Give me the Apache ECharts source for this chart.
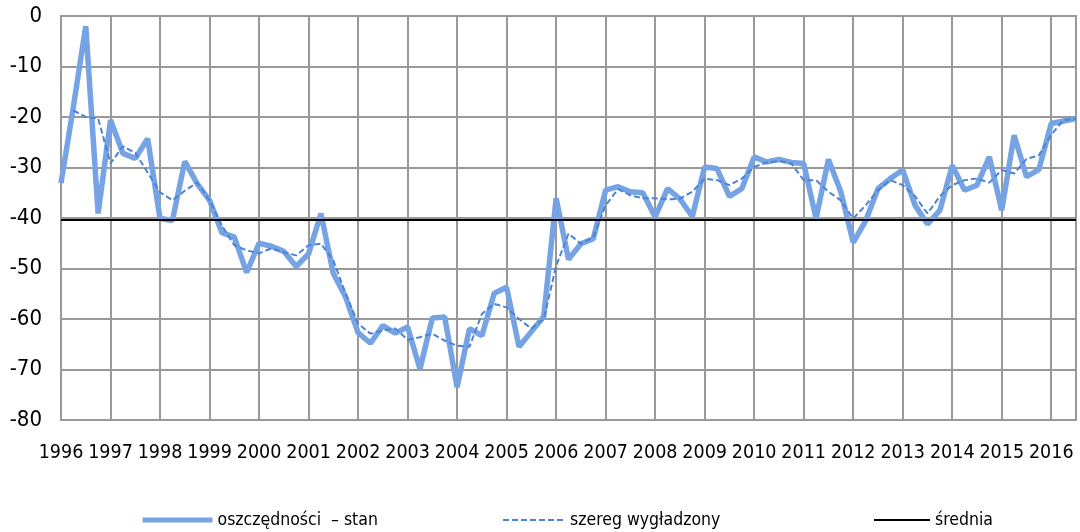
<!DOCTYPE html>
<html>
<head>
<meta charset="utf-8">
<script src="https://cdn.jsdelivr.net/npm/echarts@6/dist/echarts.min.js"></script>
<style>html,body{margin:0;padding:0;background:#fff}#c{width:1080px;height:532px}</style>
</head>
<body>
<div id="c"></div>
<script>
const YEARS = ['1996','1997','1998','1999','2000','2001','2002','2003','2004','2005','2006','2007','2008','2009','2010','2011','2012','2013','2014','2015','2016'];
const QUARTERS_LAST_YEAR = 3;
const SAVINGS = [-33.1,-18.0,-2.0,-39.1,-20.6,-27.2,-28.2,-24.3,-40.1,-40.5,-28.8,-33.2,-36.5,-42.9,-43.8,-50.8,-45.0,-45.6,-46.6,-49.6,-47.1,-39.1,-51.0,-55.7,-62.7,-64.8,-61.3,-62.8,-61.6,-69.9,-59.8,-59.6,-73.5,-61.9,-63.3,-54.9,-53.7,-65.5,-62.5,-59.5,-36.1,-48.2,-45.1,-44.1,-34.5,-33.8,-34.8,-35.0,-39.8,-34.2,-36.2,-39.7,-29.9,-30.2,-35.7,-34.2,-27.9,-28.9,-28.4,-29.0,-29.2,-40.1,-28.4,-34.8,-44.8,-40.6,-34.2,-32.2,-30.5,-37.5,-41.2,-38.5,-29.6,-34.5,-33.5,-27.9,-38.5,-23.6,-31.8,-30.4,-21.3,-20.8,-20.3];
const SMOOTHED = [null,-18.7,-20.0,-20.3,-29.2,-25.8,-27.1,-31.0,-34.9,-36.5,-34.6,-33.0,-36.5,-41.5,-45.4,-46.4,-47.0,-46.0,-46.8,-47.4,-45.4,-45.1,-48.4,-55.0,-60.9,-62.9,-62.3,-61.9,-64.1,-63.6,-62.9,-64.3,-65.3,-65.5,-59.0,-57.0,-57.7,-60.0,-61.9,-60.0,-49.5,-43.1,-45.1,-43.8,-37.5,-34.3,-35.5,-36.1,-36.1,-36.3,-36.2,-34.8,-32.2,-32.5,-33.5,-32.2,-29.9,-29.0,-28.7,-29.2,-32.5,-32.5,-34.8,-36.5,-40.1,-37.5,-34.5,-32.5,-33.5,-35.7,-39.1,-35.7,-33.5,-32.5,-32.2,-33.0,-30.5,-31.2,-28.3,-27.6,-23.5,-20.6,-20.3];
const MEAN = -40.3;
const NAMES = ['oszczędności  – stan','szereg wygładzony','średnia'];

const CATEGORIES = [];
YEARS.forEach((y, k) => {
  const nq = (k === YEARS.length - 1) ? QUARTERS_LAST_YEAR : 4;
  for (let q = 1; q <= nq; q++) CATEGORIES.push(y + ' Q' + q);
});

const FONT = "'DejaVu Sans Condensed', 'Liberation Sans', sans-serif";
const chart = echarts.init(document.getElementById('c'));
const legendBase = {
  orient: 'horizontal', top: 506, itemGap: 0,
  textStyle: {fontFamily: FONT, fontSize: 17.5, color: '#000'},
  itemHeight: 10,
  itemStyle: {opacity: 0}
};
chart.setOption({
  animation: false,
  backgroundColor: '#fff',
  textStyle: {fontFamily: FONT},
  grid: {left: 61, right: 4, top: 16, bottom: 112, show: true, borderColor: '#999', borderWidth: 2, containLabel: false},
  legend: [
    Object.assign({}, legendBase, {left: 135, data: [NAMES[0]], itemWidth: 70, lineStyle: {width: 5}}),
    Object.assign({}, legendBase, {left: 497, data: [NAMES[1]], itemWidth: 62, lineStyle: {width: 2}}),
    Object.assign({}, legendBase, {left: 868, data: [NAMES[2]], itemWidth: 56, lineStyle: {width: 2}})
  ],
  xAxis: {
    type: 'category', data: CATEGORIES, boundaryGap: false,
    axisLine: {lineStyle: {color: '#999', width: 2}},
    axisTick: {show: false},
    axisLabel: {interval: 3, margin: 23, fontSize: 19.5, color: '#000', fontFamily: FONT,
      formatter: v => v.slice(0, 4)},
    splitLine: {show: true, interval: 3, lineStyle: {color: '#999', width: 2}}
  },
  yAxis: {
    type: 'value', min: -80, max: 0, interval: 10,
    axisLine: {show: true, lineStyle: {color: '#999', width: 2}},
    axisTick: {show: false},
    axisLabel: {margin: 19, fontSize: 22, color: '#000', fontFamily: FONT},
    splitLine: {show: true, lineStyle: {color: '#999', width: 2}}
  },
  series: [
    {name: NAMES[0], type: 'line', data: SAVINGS, symbol: 'none', color: '#76a3e3',
      lineStyle: {width: 5.5, color: '#76a3e3'}, z: 3},
    {name: NAMES[1], type: 'line', data: SMOOTHED, symbol: 'none', color: '#4a84d6',
      lineStyle: {width: 2, type: [6, 3], color: '#4a84d6'}, z: 4},
    {name: NAMES[2], type: 'line', data: [], symbol: 'none', color: '#000',
      lineStyle: {width: 2, color: '#000'}, z: 5,
      markLine: {silent: true, symbol: 'none', label: {show: false},
        lineStyle: {color: '#000', width: 2, type: 'solid'},
        data: [{yAxis: MEAN}]}}
  ]
});
</script>
</body>
</html>
